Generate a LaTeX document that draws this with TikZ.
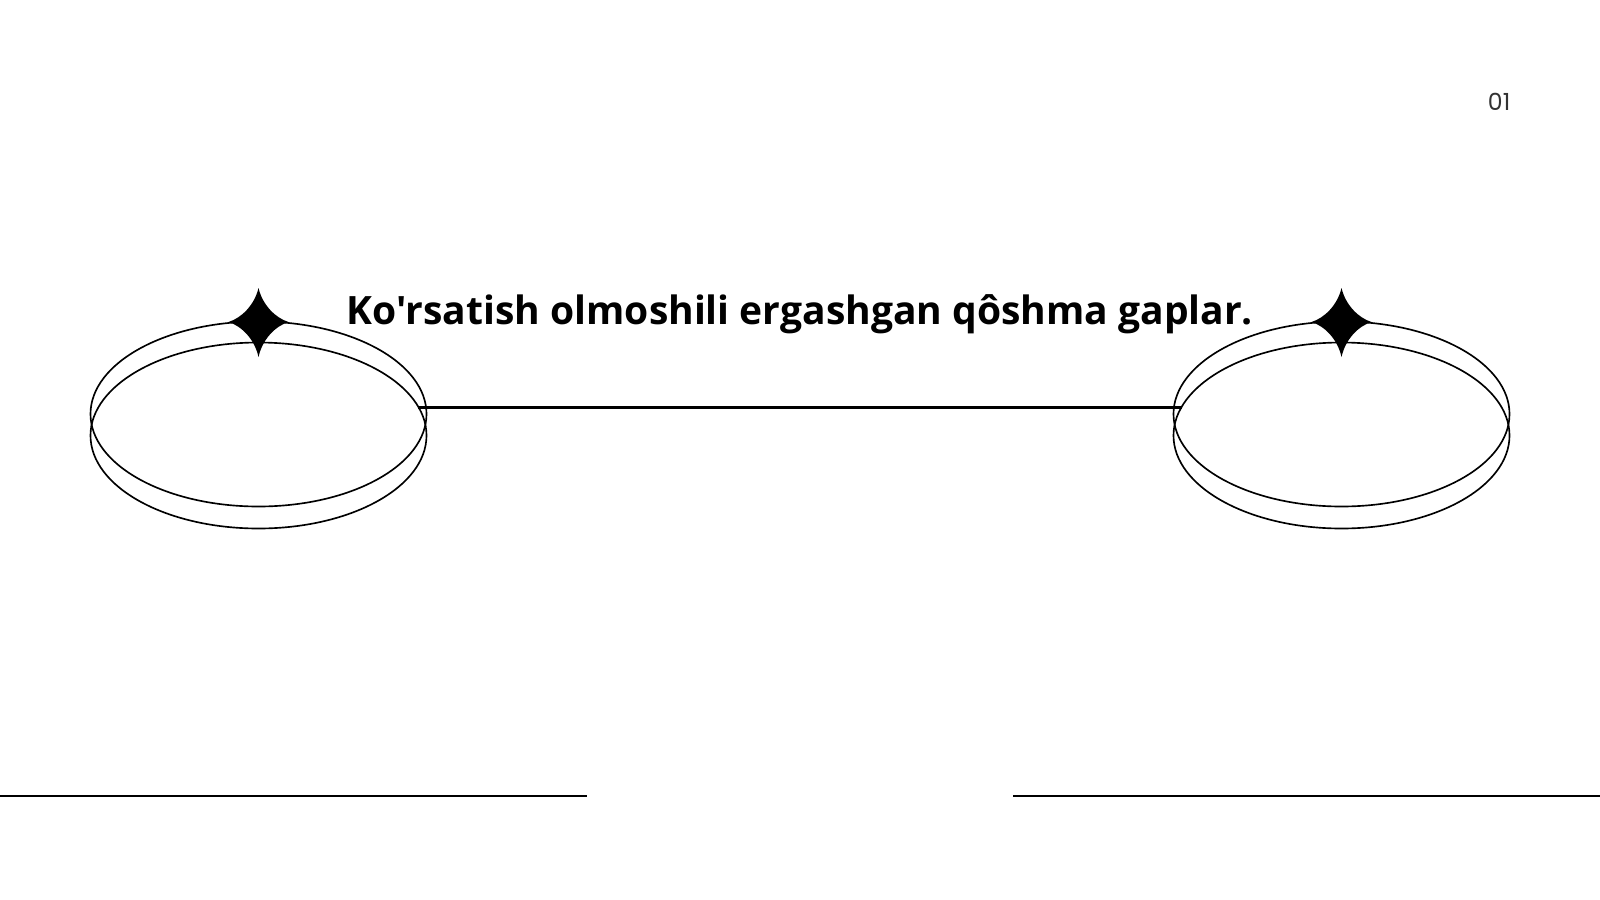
\documentclass[tikz,border=0pt]{standalone}
\usepackage{fontspec}
\newfontfamily\titlefont{Open Sans}
\newfontfamily\numfont{Poppins}
\begin{document}
\begin{tikzpicture}%
	[x={(0.01cm, 0cm)},
	y={(0cm, -0.01cm)},
	rim/.style={color=black, line width=0.47pt},
	rule/.style={color=black, line width=0.65pt},
	sparkle/.style={fill=black},
	title/.style={font=\titlefont\bfseries\fontsize{11.1}{14}\selectfont, anchor=base, inner sep=0pt},
	pagenum/.style={font=\numfont\fontsize{6.7}{8}\selectfont, color=black!80, anchor=base east, inner sep=0pt}]
	%
	\useasboundingbox (0,0) rectangle (1600,900);
	%%
	%% Coordinate of the discs and rules:
	%%
	\coordinate (leftdisc) at (258.5,414);
	\coordinate (rightdisc) at (1341.5,414);
	\coordinate (linestart) at (418.4,407.5);
	\coordinate (lineend) at (1181.6,407.5);
	\coordinate (leftrule a) at (0,796);
	\coordinate (leftrule b) at (587,796);
	\coordinate (rightrule a) at (1013,796);
	\coordinate (rightrule b) at (1600,796);
	%%
	%% Drawing the discs
	%%
	\foreach \disc in {leftdisc,rightdisc}{
		\begin{scope}[shift={(\disc)}]
			\draw[rim] (0,0) ellipse [x radius=168, y radius=92.5];
			\draw[rim] (0,21.5) ellipse [x radius=168, y radius=93];
			% sparkle on the top of the rim
			\fill[sparkle] (0,-126) .. controls (4,-109) and (17,-96) .. (30,-92)
				.. controls (17,-88) and (4,-75) .. (0,-57)
				.. controls (-4,-75) and (-17,-88) .. (-30,-92)
				.. controls (-17,-96) and (-4,-109) .. cycle;
		\end{scope}
	}
	%%
	%% Drawing the rules
	%%
	\draw[rule] (linestart) -- (lineend);
	\draw[rule] (leftrule a) -- (leftrule b);
	\draw[rule] (rightrule a) -- (rightrule b);
	%%
	%% Texts
	%%
	\node[title] (heading) at (800,324) {Ko'rsatish olmoshili ergashgan qôshma gaplar.};
	\node[pagenum] (slideno) at (1511,110.5) {01};
\end{tikzpicture}
\end{document}
